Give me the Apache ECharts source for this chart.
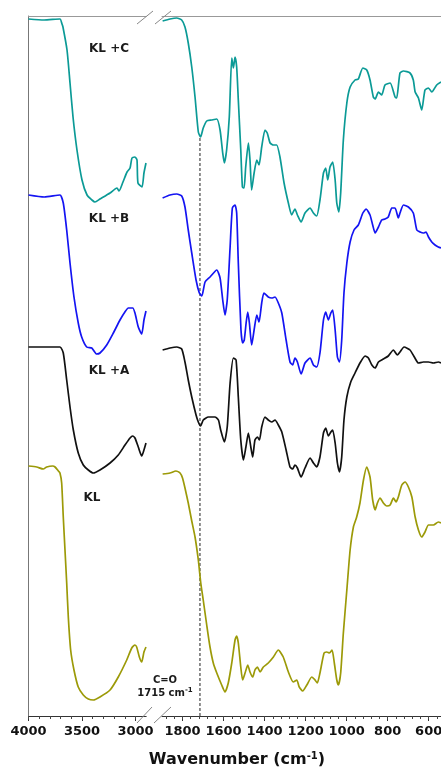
<!DOCTYPE html>
<html>
<head>
<meta charset="utf-8">
<script src="https://cdn.jsdelivr.net/npm/echarts@6/dist/echarts.min.js"></script>
<style>
html,body{margin:0;padding:0;background:#fff;}
#chart{width:441px;height:770px;}
</style>
</head>
<body>
<div id="chart"></div>
<script>
// ---- Data (wavenumber cm-1, offset transmittance a.u.) ----
const seriesNames = ['KL +C', 'KL +B', 'KL +A', 'KL'];
const highTicks = [4000, 3500, 3000];
const lowTicks = [1800, 1600, 1400, 1200, 1000, 800, 600];
const carbonylWn = 1715;
const carbonylLine = [[1715, 0], [1715, 57.9]];

const klC_high = [[4000,69.7],[3855,69.6],[3706,69.7],[3687,69.2],[3678,68.9],[3640,66.6],[3612,63.3],[3584,59.9],[3547,56.6],[3500,53.6],[3453,52.1],[3407,51.6],[3379,51.4],[3332,51.7],[3238,52.3],[3173,52.8],[3154,52.5],[3117,53.4],[3079,54.4],[3051,54.8],[3033,55.8],[3005,55.9],[2986,55.6],[2977,53.3],[2939,52.9],[2921,54.3],[2902,55.3]];
const klC_low = [[1897,69.5],[1861,69.7],[1828,69.8],[1804,69.6],[1788,68.9],[1772,67.3],[1755,64.9],[1739,61.9],[1723,58.4],[1712,57.9],[1699,58.8],[1682,59.5],[1658,59.6],[1633,59.7],[1617,58.6],[1604,56.3],[1596,55.3],[1585,56.6],[1572,59.9],[1560,65.8],[1552,64.8],[1544,65.9],[1536,64.9],[1528,61.6],[1516,56.6],[1508,52.9],[1500,52.8],[1492,54.9],[1479,57.3],[1471,55.6],[1463,52.6],[1451,54.3],[1438,55.6],[1427,55.1],[1414,56.9],[1398,58.6],[1387,58.3],[1373,57.3],[1357,57.1],[1341,57.1],[1325,55.9],[1305,53.3],[1284,51.3],[1268,50.1],[1252,50.7],[1240,50.1],[1222,49.4],[1203,50.3],[1178,50.8],[1162,50.3],[1146,50.0],[1130,51.6],[1113,54.3],[1102,54.8],[1092,53.6],[1081,54.9],[1068,55.4],[1056,53.6],[1048,51.3],[1038,50.4],[1029,52.3],[1016,57.6],[999,61.3],[983,62.9],[959,63.6],[943,63.7],[921,64.8],[902,64.6],[886,63.6],[870,61.9],[861,61.7],[845,62.4],[829,62.1],[813,63.1],[788,63.3],[764,61.9],[756,61.8],[740,64.3],[723,64.5],[691,64.3],[675,63.6],[666,62.4],[650,61.8],[634,60.6],[618,62.6],[601,62.8],[585,62.4],[561,63.1],[540,63.4]];

const klB_high = [[4000,52.1],[3852,51.9],[3706,52.1],[3675,51.3],[3643,48.6],[3612,45.3],[3575,41.9],[3535,39.3],[3503,37.9],[3456,36.9],[3409,36.8],[3363,36.2],[3332,36.3],[3269,37.1],[3207,38.3],[3145,39.6],[3099,40.4],[3067,40.8],[3026,40.8],[3005,40.3],[2974,38.9],[2942,38.2],[2921,39.6],[2902,40.5]];
const klB_low = [[1897,51.8],[1861,52.1],[1828,52.2],[1804,52.0],[1788,50.9],[1772,48.6],[1755,46.3],[1734,43.6],[1718,42.3],[1706,42.0],[1690,43.4],[1666,43.9],[1633,44.6],[1617,43.8],[1604,41.6],[1593,40.1],[1582,41.6],[1568,46.9],[1557,50.8],[1544,51.1],[1536,50.3],[1528,45.3],[1515,38.6],[1507,37.3],[1499,37.6],[1490,39.3],[1482,40.4],[1474,39.3],[1463,37.1],[1451,38.6],[1438,40.1],[1427,39.4],[1414,41.3],[1403,42.3],[1382,41.9],[1365,41.8],[1349,41.9],[1333,41.3],[1316,40.3],[1295,37.6],[1276,35.4],[1263,35.1],[1252,35.8],[1240,35.4],[1222,34.2],[1203,35.3],[1178,35.8],[1162,35.1],[1146,34.9],[1130,36.3],[1113,39.6],[1102,40.4],[1089,39.6],[1077,40.3],[1068,40.6],[1056,38.6],[1045,35.9],[1035,35.4],[1024,37.6],[1013,42.3],[999,45.3],[983,47.4],[964,48.6],[943,49.1],[921,50.3],[905,50.7],[886,50.1],[873,49.1],[861,48.3],[845,48.9],[829,49.6],[813,49.7],[797,49.9],[780,50.8],[764,50.8],[748,49.8],[740,50.3],[723,51.1],[699,50.9],[675,50.3],[658,48.6],[642,48.4],[626,48.3],[613,48.4],[601,47.9],[585,47.4],[569,47.1],[553,46.9],[540,46.8]];

const klA_high = [[4000,36.9],[3706,36.9],[3675,36.3],[3643,33.6],[3612,30.9],[3581,28.6],[3535,26.3],[3488,25.1],[3441,24.6],[3394,24.3],[3332,24.6],[3238,25.3],[3161,26.1],[3098,27.1],[3051,27.8],[3026,28.0],[3005,27.8],[2974,26.9],[2942,26.0],[2921,26.6],[2902,27.3]];
const klA_low = [[1897,36.6],[1861,36.8],[1828,36.9],[1804,36.7],[1788,35.4],[1772,33.6],[1755,31.9],[1734,30.1],[1723,29.4],[1712,29.0],[1699,29.6],[1674,29.9],[1642,29.9],[1625,29.6],[1614,28.6],[1596,27.4],[1582,28.9],[1568,33.3],[1552,35.8],[1539,35.6],[1528,31.9],[1516,27.6],[1503,25.6],[1491,26.9],[1479,28.3],[1467,26.9],[1458,25.9],[1447,27.6],[1435,27.9],[1425,27.6],[1414,28.9],[1398,29.9],[1382,29.6],[1365,29.4],[1349,29.6],[1333,29.1],[1316,28.4],[1295,26.6],[1276,24.9],[1263,24.7],[1252,25.1],[1240,24.8],[1222,23.9],[1203,24.8],[1178,25.8],[1162,25.3],[1146,24.9],[1130,25.9],[1113,28.3],[1102,28.8],[1089,28.0],[1077,28.4],[1068,28.6],[1056,27.3],[1045,25.3],[1035,24.4],[1024,25.9],[1013,29.6],[999,31.9],[980,33.4],[959,34.3],[935,35.3],[910,36.0],[894,35.8],[877,35.1],[861,34.8],[845,35.4],[821,35.7],[797,36.0],[772,36.6],[753,36.1],[740,36.4],[720,36.9],[691,36.6],[670,35.9],[650,35.3],[626,35.4],[601,35.4],[577,35.3],[553,35.4],[540,35.3]];

const kl_high = [[4000,25.0],[3923,24.9],[3862,24.7],[3830,24.9],[3774,25.0],[3752,24.9],[3721,24.5],[3706,24.3],[3690,23.3],[3675,19.9],[3659,16.6],[3643,13.3],[3628,9.9],[3606,6.6],[3575,4.6],[3535,2.9],[3488,2.1],[3441,1.7],[3394,1.6],[3332,1.9],[3238,2.6],[3161,3.9],[3082,5.6],[3035,6.8],[3005,7.1],[2989,6.9],[2964,5.9],[2942,5.4],[2921,6.4],[2902,6.9]];
const kl_low = [[1897,24.2],[1861,24.3],[1832,24.5],[1812,24.3],[1800,23.8],[1788,22.8],[1772,21.3],[1755,19.5],[1739,17.9],[1723,15.6],[1711,13.3],[1699,11.6],[1682,9.1],[1666,6.9],[1650,5.3],[1633,4.3],[1609,3.1],[1593,2.4],[1577,3.3],[1560,5.3],[1544,7.6],[1536,8.0],[1528,7.3],[1516,4.9],[1507,3.6],[1495,4.3],[1482,5.1],[1471,4.4],[1458,3.9],[1447,4.6],[1435,4.9],[1422,4.4],[1406,4.9],[1382,5.3],[1357,5.9],[1333,6.6],[1309,5.9],[1284,4.4],[1260,3.4],[1243,3.6],[1231,2.9],[1214,2.5],[1194,3.1],[1170,3.9],[1154,3.6],[1143,3.3],[1130,4.3],[1110,6.3],[1097,6.4],[1084,6.3],[1071,6.6],[1060,5.3],[1048,3.6],[1040,3.1],[1029,4.3],[1016,8.3],[999,12.6],[983,16.6],[967,18.9],[951,19.9],[935,21.3],[918,23.6],[902,24.9],[886,23.9],[873,21.6],[861,20.6],[850,21.3],[837,21.8],[821,21.3],[804,21.0],[788,21.1],[772,21.8],[759,21.4],[748,21.9],[731,23.1],[715,23.4],[699,22.9],[682,21.9],[666,19.9],[650,18.6],[634,17.9],[618,18.4],[601,19.1],[577,19.1],[553,19.4],[540,19.3]];

const colors = ['#0b9a96', '#1414f2', '#111111', '#9c9a08'];
const highSets = [klC_high, klB_high, klA_high, kl_high];
const lowSets = [klC_low, klB_low, klA_low, kl_low];

// ---- Chart ----
const chart = echarts.init(document.getElementById('chart'), null, {renderer: 'canvas'});
const FONT = 'DejaVu Sans';
const gridTop = 16, gridBottom = 54;
const hiMin = 2900, hiMax = 4000, loMin = 540, loMax = 1900;

const minorHi = [];
for (let v = 3000; v <= 4000; v += 100) minorHi.push(v);
const minorLo = [];
for (let v = 560; v <= 1880; v += 40) minorLo.push(v);

function bottomAxis(gridIndex, min, max, majors) {
  return {
    type: 'value', gridIndex, position: 'bottom', inverse: true, min, max,
    axisLine: {show: true, onZero: false, lineStyle: {color: '#333', width: 1}},
    axisTick: {show: true, customValues: majors, length: 5, lineStyle: {color: '#333'}},
    axisLabel: {show: true, customValues: majors, margin: 9, color: '#111', hideOverlap: false,
      formatter: v => String(v),
      fontFamily: FONT, fontWeight: 'bold', fontSize: 13},
    splitLine: {show: false}
  };
}
function minorAxis(gridIndex, min, max, vals) {
  return {
    type: 'value', gridIndex, position: 'bottom', inverse: true, min, max,
    axisLine: {show: false},
    axisTick: {show: true, customValues: vals, length: 3, lineStyle: {color: '#444'}},
    axisLabel: {show: false}, splitLine: {show: false}
  };
}
function topAxis(gridIndex, min, max) {
  return {
    type: 'value', gridIndex, position: 'top', inverse: true, min, max,
    axisLine: {show: true, onZero: false, lineStyle: {color: '#999', width: 1}},
    axisTick: {show: false}, axisLabel: {show: false}, splitLine: {show: false}
  };
}

const series = [];
highSets.forEach((d, i) => {
  series.push({type: 'line', name: seriesNames[i], xAxisIndex: 0, yAxisIndex: 0, data: d,
    showSymbol: false, smooth: 0.2, lineStyle: {color: colors[i], width: 1.7}, z: 3});
});
lowSets.forEach((d, i) => {
  series.push({type: 'line', name: seriesNames[i] + ' ', xAxisIndex: 1, yAxisIndex: 1, data: d,
    showSymbol: false, smooth: 0.2, lineStyle: {color: colors[i], width: 1.7}, z: 3});
});
series.push({type: 'line', name: 'C=O', xAxisIndex: 1, yAxisIndex: 1, data: carbonylLine,
  showSymbol: false, lineStyle: {color: '#444', width: 1.2, type: [3, 2]}, z: 2});

const breakLine = (x1, y1, x2, y2) => ({type: 'line', shape: {x1, y1, x2, y2},
  style: {stroke: '#888', lineWidth: 1}, z: 10});
const labelText = (txt, x, y) => ({type: 'text', x, y, z: 10,
  style: {text: txt, fill: '#1a1a1a', font: 'bold 12px "' + FONT + '"', textAlign: 'center', textVerticalAlign: 'middle'}});

const option = {
  animation: false,
  backgroundColor: '#fff',
  grid: [
    {left: 28.5, top: gridTop, width: 117.7, bottom: gridBottom, containLabel: false, outerBoundsMode: 'none'},
    {left: 162, top: gridTop, width: 279, bottom: gridBottom, containLabel: false, outerBoundsMode: 'none'}
  ],
  xAxis: [
    bottomAxis(0, hiMin, hiMax, highTicks),
    bottomAxis(1, loMin, loMax, lowTicks),
    topAxis(0, hiMin, hiMax),
    topAxis(1, loMin, loMax),
    minorAxis(0, hiMin, hiMax, minorHi),
    minorAxis(1, loMin, loMax, minorLo)
  ],
  yAxis: [
    {type: 'value', gridIndex: 0, min: 0, max: 70,
      axisLine: {show: true, lineStyle: {color: '#777', width: 1}},
      axisTick: {show: false}, axisLabel: {show: false}, splitLine: {show: false}},
    {type: 'value', gridIndex: 1, min: 0, max: 70, show: false}
  ],
  series,
  graphic: [
    breakLine(137, 723, 152, 707), breakLine(154, 723, 171, 707),
    breakLine(137, 24, 153, 11), breakLine(155, 24, 171, 11),
    labelText(seriesNames[0], 109, 49),
    labelText(seriesNames[1], 109, 219),
    labelText(seriesNames[2], 109, 371),
    labelText(seriesNames[3], 92, 498),
    {type: 'text', x: 165, y: 680, z: 10,
      style: {text: 'C=O', fill: '#1a1a1a', font: 'bold 10px "' + FONT + '"', textAlign: 'center', textVerticalAlign: 'middle'}},
    {type: 'text', x: 165, y: 693, z: 10,
      style: {text: '{a|' + carbonylWn + ' cm}{b|-1}', textAlign: 'center', textVerticalAlign: 'middle',
        rich: {a: {fontFamily: FONT, fontWeight: 'bold', fontSize: 10, fill: '#1a1a1a', color: '#1a1a1a'},
               b: {fontFamily: FONT, fontWeight: 'bold', fontSize: 7, fill: '#1a1a1a', color: '#1a1a1a', verticalAlign: 'top', padding: [0,0,5,0]}}}},
    {type: 'text', x: 237, y: 760, z: 10,
      style: {text: '{a|Wavenumber (cm}{b|-1}{a|)}', textAlign: 'center', textVerticalAlign: 'middle',
        rich: {a: {fontFamily: FONT, fontWeight: 'bold', fontSize: 16, fill: '#111', color: '#111'},
               b: {fontFamily: FONT, fontWeight: 'bold', fontSize: 10, fill: '#111', color: '#111', verticalAlign: 'top', padding: [0,0,8,0]}}}}
  ]
};
chart.setOption(option);
</script>
</body>
</html>
